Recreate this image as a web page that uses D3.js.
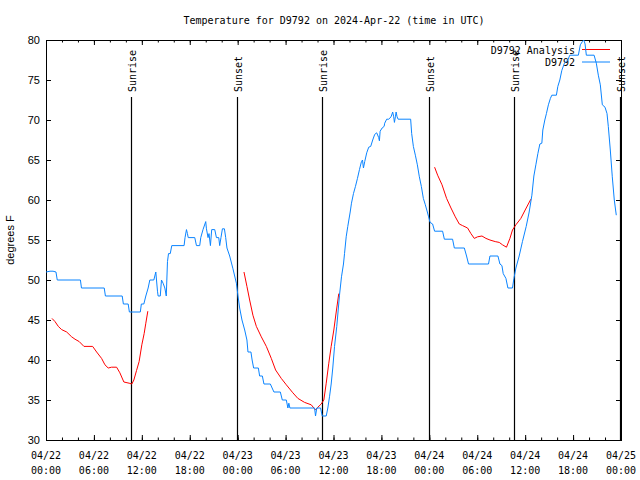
<!DOCTYPE html>
<html><head><meta charset="utf-8">
<script src="https://cdn.jsdelivr.net/npm/d3@7"></script>
<style>body{margin:0;background:#fff}svg{display:block}</style>
</head><body>
<svg id="c" width="640" height="480"></svg>
<script>
const titleText = "Temperature for D9792 on 2024-Apr-22 (time in UTC)";
const startTime = "2024-04-22T00:00:00Z";
const yLabel = "degrees F";
const yTicks = [30, 35, 40, 45, 50, 55, 60, 65, 70, 75, 80];
const xTickHours = [0, 6, 12, 18, 24, 30, 36, 42, 48, 54, 60, 66, 72];
const xMinorHours = d3.range(0, 73, 2);

// Observed temperature (hours since start, deg F)
const obsHours = [0,0.5,0.88,1.25,1.41,4.31,4.44,7.29,7.44,9.54,9.69,10.29,10.44,11.81,11.94,12.25,12.5,12.79,13,13.5,13.75,13.96,14.04,14.31,14.46,14.66,14.88,15.06,15.21,15.34,15.56,15.75,17.29,17.41,17.59,17.71,17.81,18.63,18.84,19.25,19.38,19.66,20,20.09,20.29,20.41,20.59,20.75,21.13,21.34,21.63,21.75,21.91,22.09,22.34,22.5,22.66,23,23.41,23.84,24.04,24.25,24.54,24.88,25.16,25.29,25.66,25.81,26,26.59,26.75,27.09,27.29,28.09,28.54,29.34,29.59,30.09,30.29,30.41,30.54,33.63,33.75,33.91,34.38,34.59,35.09,35.29,35.5,35.71,35.91,36.13,36.41,36.75,37,37.25,37.38,37.59,37.79,38.09,38.25,38.5,38.75,39,39.25,39.5,39.63,39.75,39.91,40.16,40.41,40.66,40.91,41.16,41.41,41.66,41.75,41.84,42.09,42.34,42.41,42.66,42.91,43.21,43.41,43.54,43.63,43.75,43.84,43.96,44.09,45.66,45.79,46,46.25,46.5,46.75,47,47.25,47.5,47.75,47.91,48.09,48.41,48.66,49.66,49.88,50.91,51.13,52.38,52.66,52.91,55.41,55.59,56.59,56.84,57.09,57.25,57.59,57.84,58.41,58.59,58.84,59.25,59.66,60.13,60.5,60.84,61.09,61.34,61.59,61.84,62.09,62.21,62.46,62.66,62.91,63.16,63.34,63.91,64.09,64.34,64.59,64.91,65.34,65.59,66.66,66.91,67.16,67.34,67.5,67.66,68.63,68.91,69.16,69.41,69.66,70,70.25,70.41,70.66,70.91,71.16,71.41];
const obsTemp = [51,51.1,51.1,51,50,50,49,49,48,48,47,47,46,46,47,47,48,49,50,50,51,48.6,48,48,50,49.6,49,48,52.3,53.3,53.3,54.3,54.3,55.3,56.3,55.8,55.3,55.3,54.3,54.3,55.3,56.3,57.3,56.4,55.3,55.8,54.3,56.3,56.3,55.3,55.3,54.3,55.3,56.4,56.4,55.3,54,53,51.4,49.6,48,46.5,45,43.75,42.5,41,41,40,39,39,38,38,37,37,36,36,35,35,34,34.6,34,34,33,34,34,33,33,34,35.4,37,39,41.7,44.2,48.1,50.4,52,53.3,55.4,56.7,58.5,59.6,60.8,61.7,62.7,63.8,64.8,65,64,64.8,65.9,66.6,66.7,67.5,68.2,68.4,67.8,67.4,68.6,69,69.2,69.6,70.1,70.1,70.4,71,70.4,69.7,70.4,71,70.4,70.1,70.1,68.3,66.7,65.6,64.4,62.9,61.7,60.2,59.4,58.5,57.9,57.2,57,56.1,56.1,55.1,55.1,54,54,53,52,52,53,53,52,51.8,50.8,50.2,49,49,50.2,51.5,53,54.8,56.7,58.5,60.6,63,64.4,65.8,67,67.1,68.75,70,70.8,71.9,72.7,73.1,73.1,74.2,75,76.2,77.1,77.5,78.1,78.1,79.4,79.8,80,79.5,78.1,78.1,77.1,75.6,74.4,71.9,71.6,70.8,69.2,66.25,62.9,60,58.1];

// Analysis (three segments, separated by null)
const anaHours = [0.75,1.13,1.54,1.96,2.59,3.21,3.63,4.16,4.75,5.84,6.34,6.96,7.38,7.79,8.21,8.84,9.25,9.75,10.41,10.75,11,11.34,11.66,12,12.29,12.5,12.75,
  null,
  24.79,25.16,25.5,25.91,26.34,26.96,27.59,28.21,28.75,29.46,30.09,30.91,31.54,32.38,33.21,33.75,34.04,34.46,34.79,35.09,35.41,35.71,36.04,36.34,36.66,
  null,
  48.66,49.04,49.59,50.16,50.71,51.25,51.75,52.16,52.79,53.21,53.63,54.04,54.59,55.09,55.59,56.25,56.75,57.16,57.66,58.09,58.41,58.84,59.46,60,60.71];
const anaTemp = [45.2,44.8,44.2,43.8,43.5,42.9,42.6,42.3,41.7,41.7,41,40.2,39.4,39,39.1,39.1,38.4,37.25,37.1,37,37.5,38.7,39.8,41.9,43.3,44.6,46.1,
  null,
  51,49.2,47.5,45.6,44.2,42.9,41.7,40.2,38.75,37.7,36.9,35.9,35.2,34.7,34.4,33.75,34.1,34.5,35,37.1,39.6,41.7,43.75,46,48.3,
  null,
  64.1,63.1,61.9,60.2,59,57.9,57,56.8,56.5,55.8,55.2,55.4,55.5,55.2,55,54.8,54.7,54.4,54.1,55.2,56.25,56.9,57.7,58.75,60.1];

const eventHours = [10.63, 23.94, 34.54, 47.91, 58.54, 71.9];
const eventLabels = ["Sunrise", "Sunset", "Sunrise", "Sunset", "Sunrise", "Sunset"];
const seriesNames = ["D9792 Analysis", "D9792"];
const seriesColors = ["#ff0000", "#0a84ff"];

const mono = "'DejaVu Sans Mono', 'Liberation Mono', monospace";
const sans = "'Liberation Sans', Arial, sans-serif";

const t0 = new Date(startTime);
const toDate = h => new Date(t0.getTime() + h * 3600e3);
const L = 46, R = 621, T = 40, B = 440;
const x = d3.scaleUtc().domain([toDate(0), toDate(72)]).range([L, R]);
const y = d3.scaleLinear().domain([30, 80]).range([B, T]);

const svg = d3.select("#c");
svg.append("rect").attr("width", 640).attr("height", 480).attr("fill", "#fff");

// axes (inward ticks, mirrored)
function styleAxis(g) {
  g.select(".domain").remove();
  g.selectAll("line").attr("stroke", "#000");
  g.selectAll("text").remove();
}
svg.append("g").attr("transform", `translate(0,${B})`)
  .call(d3.axisBottom(x).tickValues(xMinorHours.map(toDate)).tickSize(-2.5).tickFormat("")).call(styleAxis);
svg.append("g").attr("transform", `translate(0,${B})`)
  .call(d3.axisBottom(x).tickValues(xTickHours.map(toDate)).tickSize(-5).tickFormat("")).call(styleAxis);
svg.append("g").attr("transform", `translate(0,${T})`)
  .call(d3.axisTop(x).tickValues(xMinorHours.map(toDate)).tickSize(-2.5).tickFormat("")).call(styleAxis);
svg.append("g").attr("transform", `translate(0,${T})`)
  .call(d3.axisTop(x).tickValues(xTickHours.map(toDate)).tickSize(-5).tickFormat("")).call(styleAxis);
svg.append("g").attr("transform", `translate(${L},0)`)
  .call(d3.axisLeft(y).tickValues(yTicks).tickSize(-5).tickFormat("")).call(styleAxis);
svg.append("g").attr("transform", `translate(${R},0)`)
  .call(d3.axisRight(y).tickValues(yTicks).tickSize(-5).tickFormat("")).call(styleAxis);

// frame
svg.append("rect").attr("x", L + 0.5).attr("y", T + 0.5).attr("width", R - L).attr("height", B - T)
  .attr("fill", "none").attr("stroke", "#000").attr("stroke-width", 1);

// y tick labels
svg.append("g").selectAll("text").data(yTicks).join("text")
  .attr("x", 40).attr("y", d => y(d)).attr("dy", "0.36em")
  .attr("text-anchor", "end").attr("font-family", sans).attr("font-size", 11).attr("fill", "#000")
  .text(d => d);

// x tick labels
const fmtD = d3.utcFormat("%m/%d"), fmtT = d3.utcFormat("%H:%M");
const xl = svg.append("g").selectAll("text").data(xTickHours.map(toDate)).join("text")
  .attr("x", d => x(d)).attr("y", 459).attr("text-anchor", "middle")
  .attr("font-family", mono).attr("font-size", 10).attr("fill", "#000");
xl.append("tspan").attr("x", d => x(d)).attr("y", 459).text(d => fmtD(d));
xl.append("tspan").attr("x", d => x(d)).attr("y", 474).text(d => fmtT(d));

// y label
svg.append("text").attr("transform", "translate(14,240) rotate(-90)")
  .attr("text-anchor", "middle").attr("font-family", sans).attr("font-size", 11).attr("fill", "#000")
  .text(yLabel);

// title
svg.append("text").attr("x", 334).attr("y", 24).attr("text-anchor", "middle")
  .attr("font-family", mono).attr("font-size", 10).attr("fill", "#000").text(titleText);

// sunrise / sunset lines
const ev = svg.append("g");
ev.selectAll("line").data(eventHours).join("line")
  .attr("x1", d => Math.round(x(toDate(d))) + 0.5).attr("x2", d => Math.round(x(toDate(d))) + 0.5)
  .attr("y1", 97).attr("y2", B).attr("stroke", "#000").attr("stroke-width", 1.2);
ev.selectAll("text").data(eventHours).join("text")
  .attr("transform", d => `translate(${Math.round(x(toDate(d))) + 1},92) rotate(-90)`)
  .attr("text-anchor", "start").attr("dy", "0.35em")
  .attr("font-family", mono).attr("font-size", 10).attr("fill", "#000")
  .text((d, i) => eventLabels[i]);

// series: key entry then data, in plot order (gnuplot style)
const obs = obsHours.map((h, i) => [h, obsTemp[i]]);
const ana = anaHours.map((h, i) => [h, anaTemp[i]]);
const line = d3.line().defined(d => d[0] !== null && d[1] !== null)
  .x(d => x(toDate(d[0]))).y(d => y(d[1]));
const seriesData = [ana, obs];
seriesNames.forEach((name, i) => {
  const ly = 50 + i * 12.5;
  svg.append("text").attr("x", 575).attr("y", ly).attr("dy", "0.35em").attr("text-anchor", "end")
    .attr("font-family", mono).attr("font-size", 10).attr("fill", "#000").text(name);
  svg.append("line").attr("x1", 582).attr("x2", 610).attr("y1", ly - 0.5).attr("y2", ly - 0.5)
    .attr("stroke", seriesColors[i]).attr("stroke-width", 1);
  svg.append("path").datum(seriesData[i]).attr("d", line).attr("fill", "none")
    .attr("stroke", seriesColors[i]).attr("stroke-width", 1);
});
</script>
</body></html>
